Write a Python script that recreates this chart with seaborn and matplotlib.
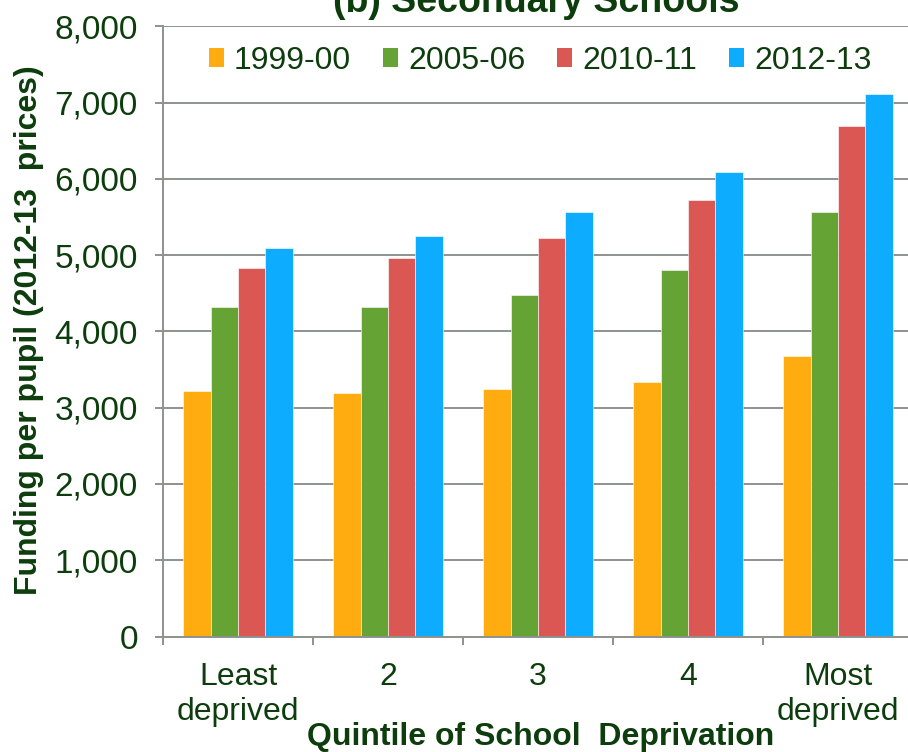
import matplotlib
matplotlib.use("Agg")
import matplotlib.pyplot as plt
import matplotlib.ticker as mticker
from matplotlib.patches import Patch
import numpy as np
import pandas as pd
import seaborn as sns

# Funding per pupil by deprivation quintile, secondary schools
quintiles = ["Least\ndeprived", "2", "3", "4", "Most\ndeprived"]
years = ["1999-00", "2005-06", "2010-11", "2012-13"]
funding_1999_00 = [3215, 3193, 3249, 3341, 3678]
funding_2005_06 = [4320, 4316, 4477, 4801, 5561]
funding_2010_11 = [4827, 4958, 5228, 5722, 6692]
funding_2012_13 = [5097, 5246, 5569, 6085, 7111]
year_colors = ["#FFAC10", "#66A335", "#DB5753", "#0EACFF"]

series = [funding_1999_00, funding_2005_06, funding_2010_11, funding_2012_13]
df = pd.DataFrame(
    [(q, y, v) for y, vals in zip(years, series) for q, v in zip(quintiles, vals)],
    columns=["quintile", "year", "funding"],
)

TEXT = "#0D3D0D"
GRID = "#8E938E"

sns.set_theme(style="white")
plt.rcParams["font.family"] = ["Liberation Sans", "DejaVu Sans"]

fig = plt.figure(figsize=(9.08, 7.52), dpi=100)
ax = fig.add_axes([163 / 908, 115.4 / 752, 750 / 908, 610.4 / 752])

sns.barplot(
    data=df, x="quintile", y="funding", hue="year",
    order=quintiles, hue_order=years, palette=year_colors,
    width=0.73, errorbar=None, ax=ax, legend=False,
    edgecolor="white", linewidth=0.4, saturation=1,
)

ax.set_xlim(-0.5, len(quintiles) - 0.5)
ax.set_ylim(0, 8000)
ax.yaxis.set_major_locator(mticker.MultipleLocator(1000))
ax.yaxis.set_major_formatter(mticker.FuncFormatter(lambda v, _: f"{int(v):,}"))

ax.set_axisbelow(True)
ax.grid(axis="y", color=GRID, linewidth=1.4)
ax.grid(axis="x", visible=False)

for side in ("top", "right"):
    ax.spines[side].set_visible(False)
for side in ("left", "bottom"):
    ax.spines[side].set_color(GRID)
    ax.spines[side].set_linewidth(1.4)

# category labels centred, tick marks at category boundaries
ax.xaxis.set_minor_locator(mticker.FixedLocator(np.arange(-0.5, len(quintiles), 1.0)))
ax.tick_params(axis="x", which="major", length=0, pad=18, labelsize=23, labelcolor=TEXT)
ax.tick_params(axis="x", which="minor", bottom=True, length=6, width=1.4, color=GRID)
ax.tick_params(axis="y", which="major", left=True, length=6, width=1.4, color=GRID,
               pad=12, labelsize=24, labelcolor=TEXT)
for lbl in ax.get_xticklabels():
    lbl.set_linespacing(1.25)

ax.set_xlabel("Quintile of School  Deprivation", fontsize=23, fontweight="bold", color=TEXT)
ax.xaxis.label.set_va("baseline")
ax.xaxis.set_label_coords(0.503, (636.6 - 745) / 610.4)

ax.set_ylabel("Funding per pupil (2012-13  prices)", fontsize=23, fontweight="bold", color=TEXT)
ax.yaxis.label.set_va("center")
ax.yaxis.set_label_coords((29 - 163) / 750, (636.6 - 330) / 610.4)

fig.text(536 / 908, 1 - 12 / 752, "(b) Secondary Schools", ha="center", va="baseline",
         fontsize=27, fontweight="bold", color=TEXT)

handles = [Patch(facecolor=c, edgecolor="none") for c in year_colors]
leg = ax.legend(
    handles, years, ncol=4, loc="center", bbox_to_anchor=(0.503, 0.943),
    frameon=False, handlelength=0.47, handleheight=0.55, handletextpad=0.32,
    columnspacing=1.0, prop={"size": 23},
)
for t in leg.get_texts():
    t.set_color(TEXT)

fig.savefig("out.png", dpi=100)
